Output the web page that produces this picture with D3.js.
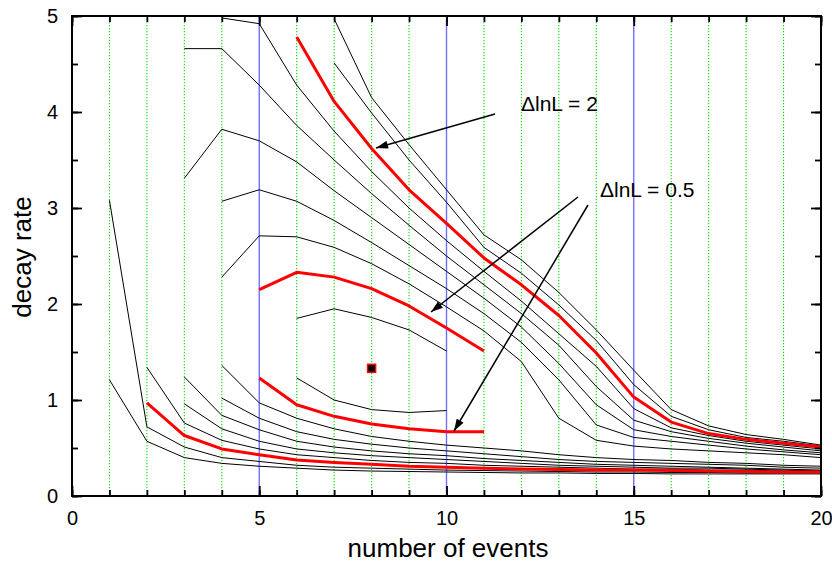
<!DOCTYPE html>
<html><head><meta charset="utf-8">
<script src="https://cdn.jsdelivr.net/npm/d3@7"></script>
<style>
body{margin:0;background:#fff}
svg{display:block}
text{font-family:"Liberation Sans",Arial,sans-serif}
</style>
</head><body>
<svg id="c" width="832" height="566"></svg>
<script>
// x positions: number of events 1..20 (null = no value at that n)
const nEvents = d3.range(1, 21);
const xTicks = [0, 5, 10, 15, 20];
const yTicks = [0, 1, 2, 3, 4, 5];

// red curves
const red2Upper  = [null,null,null,null,null,4.78,4.11,3.62,3.19,2.84,2.48,2.20,1.88,1.49,1.03,0.77,0.65,0.59,0.55,0.51];
const red2Lower  = [null,0.97,0.63,0.49,0.43,0.375,0.35,0.33,0.31,0.30,0.29,0.28,0.275,0.27,0.27,0.265,0.26,0.255,0.25,0.25];
const red05Upper = [null,null,null,null,2.15,2.33,2.28,2.16,1.98,1.75,1.51,null,null,null,null,null,null,null,null,null];
const red05Lower = [null,null,null,null,1.23,0.95,0.83,0.75,0.70,0.67,0.67,null,null,null,null,null,null,null,null,null];

// black curves, upper family
const t1 = [null,null,null,null,null,null,4.97,4.15,3.66,3.19,2.72,2.46,2.12,1.73,1.31,0.90,0.73,0.64,0.59,0.53];
const t2 = [null,null,null,null,null,null,4.51,3.99,3.50,3.06,2.59,2.32,1.99,1.62,1.16,0.83,0.69,0.61,0.57,0.52];
const b1 = [null,null,null,4.98,4.92,4.28,3.80,3.38,3.00,2.66,2.34,2.03,1.69,1.35,0.91,0.71,0.63,0.57,0.53,0.49];
const b2 = [null,null,4.66,4.66,4.28,3.86,3.50,3.15,2.82,2.50,2.20,1.90,1.57,1.14,0.79,0.67,0.60,0.55,0.51,0.47];
const b3 = [null,null,3.31,3.82,3.70,3.48,3.18,2.90,2.62,2.34,2.06,1.76,1.38,0.95,0.69,0.62,0.57,0.52,0.48,0.45];
const b4 = [null,null,null,3.07,3.19,3.07,2.87,2.64,2.40,2.16,1.90,1.60,1.21,0.74,0.61,0.57,0.53,0.49,0.46,0.43];
const b5 = [null,null,null,2.28,2.71,2.70,2.59,2.42,2.21,1.97,1.72,1.40,0.81,0.58,0.52,0.49,0.47,0.45,0.43,0.40];
const innerUpper = [null,null,null,null,null,1.85,1.95,1.86,1.73,1.51,null,null,null,null,null,null,null,null,null,null];
const innerLower = [null,null,null,null,null,1.23,1.00,0.90,0.87,0.89,null,null,null,null,null,null,null,null,null,null];

// black curves, lower family
const s5 = [null,null,null,1.36,0.97,0.81,0.70,0.62,0.57,0.53,0.50,0.47,0.43,0.40,0.38,0.37,0.35,0.34,0.32,0.31];
const s6 = [null,null,null,1.02,0.81,0.67,0.59,0.54,0.50,0.47,0.44,0.41,0.38,0.36,0.35,0.34,0.33,0.32,0.30,0.29];
const s3 = [null,null,1.24,0.84,0.69,0.57,0.51,0.47,0.44,0.42,0.39,0.37,0.35,0.33,0.32,0.31,0.30,0.29,0.28,0.27];
const s4 = [null,null,0.96,0.70,0.57,0.49,0.45,0.42,0.40,0.38,0.36,0.34,0.32,0.31,0.30,0.29,0.29,0.28,0.27,0.26];
const s2 = [null,1.34,0.76,0.58,0.49,0.43,0.40,0.37,0.35,0.34,0.32,0.31,0.30,0.29,0.28,0.28,0.27,0.27,0.26,0.26];
const sTop = [3.08,0.72,0.51,0.40,0.36,0.32,0.30,0.29,0.28,0.27,0.265,0.26,0.255,0.25,0.25,0.245,0.245,0.24,0.24,0.24];
const s1 = [1.21,0.57,0.40,0.34,0.31,0.29,0.27,0.26,0.255,0.25,0.245,0.24,0.24,0.235,0.235,0.23,0.23,0.23,0.23,0.23];

// best estimate
const bestN = [8];
const bestRate = [1.33];

const blackSeries = [t1, t2, b1, b2, b3, b4, b5, innerUpper, innerLower, s5, s6, s3, s4, s2, sTop, s1];
const redSeries = [red2Upper, red2Lower, red05Upper, red05Lower];

const svg = d3.select("#c");
const L = 72, R = 821, T = 16, B = 496;
const x = d3.scaleLinear().domain([0, 20]).range([L, R]);
const y = d3.scaleLinear().domain([0, 5]).range([B, T]);

// vertical grid lines
const g = svg.append("g");
d3.range(1, 20).forEach(v => {
  const major = v % 5 === 0;
  g.append("line").attr("x1", x(v)).attr("x2", x(v)).attr("y1", T).attr("y2", B)
    .attr("stroke", major ? "#7070ff" : "#00e000")
    .attr("stroke-width", major ? 1.4 : 1.1)
    .attr("stroke-dasharray", major ? null : "1.3,1.7");
});

const line = d3.line()
  .defined(d => d[1] !== null)
  .x(d => x(d[0])).y(d => y(d[1]));

blackSeries.forEach(s => {
  svg.append("path").datum(nEvents.map((n, i) => [n, s[i]]))
    .attr("d", line).attr("fill", "none").attr("stroke", "#000").attr("stroke-width", 1);
});
redSeries.forEach(s => {
  svg.append("path").datum(nEvents.map((n, i) => [n, s[i]]))
    .attr("d", line).attr("fill", "none").attr("stroke", "#ff0000").attr("stroke-width", 3)
    .attr("stroke-linejoin", "round");
});

// best point marker
svg.selectAll("rect.best").data(bestN.map((n, i) => [n, bestRate[i]])).enter()
  .append("rect").attr("x", d => x(d[0]) - 4).attr("y", d => y(d[1]) - 4)
  .attr("width", 8).attr("height", 8).attr("fill", "#000").attr("stroke", "#ff0000").attr("stroke-width", 1.5);

// axes
const fmt = d3.format("d");
const xAxisB = d3.axisBottom(x).tickValues(xTicks).tickFormat(fmt).tickSizeInner(-10).tickSizeOuter(0).tickPadding(15);
const xMinor = d3.axisBottom(x).tickValues(d3.range(0, 21)).tickSizeInner(-6).tickSizeOuter(0).tickFormat("");
const yAxisL = d3.axisLeft(y).tickValues(yTicks).tickFormat(fmt).tickSizeInner(-10).tickSizeOuter(0).tickPadding(14);
const yMinor = d3.axisLeft(y).tickValues(d3.range(0, 5.01, 0.5)).tickSizeInner(-6).tickSizeOuter(0).tickFormat("");

function styleAxis(sel) {
  sel.select(".domain").remove();
  sel.selectAll(".tick line").attr("stroke", "#000").attr("stroke-width", 1.8);
  sel.selectAll("text").attr("font-size", 20).attr("fill", "#000")
    .style("font-family", "'Liberation Sans', Arial, sans-serif");
}
svg.append("g").attr("transform", `translate(0,${B})`).call(xMinor).call(styleAxis);
svg.append("g").attr("transform", `translate(0,${B})`).call(xAxisB).call(styleAxis);
svg.append("g").attr("transform", `translate(0,${T})`).call(d3.axisTop(x).tickValues(xTicks).tickSizeInner(-10).tickSizeOuter(0).tickFormat("")).call(styleAxis);
svg.append("g").attr("transform", `translate(0,${T})`).call(d3.axisTop(x).tickValues(d3.range(0, 21)).tickSizeInner(-6).tickSizeOuter(0).tickFormat("")).call(styleAxis);
svg.append("g").attr("transform", `translate(${L},0)`).call(yMinor).call(styleAxis);
svg.append("g").attr("transform", `translate(${L},0)`).call(yAxisL).call(styleAxis);
svg.append("g").attr("transform", `translate(${R},0)`).call(d3.axisRight(y).tickValues(yTicks).tickSizeInner(-10).tickSizeOuter(0).tickFormat("")).call(styleAxis);
svg.append("g").attr("transform", `translate(${R},0)`).call(d3.axisRight(y).tickValues(d3.range(0, 5.01, 0.5)).tickSizeInner(-6).tickSizeOuter(0).tickFormat("")).call(styleAxis);

svg.append("rect").attr("x", L).attr("y", T).attr("width", R - L).attr("height", B - T)
  .attr("fill", "none").attr("stroke", "#000").attr("stroke-width", 2);

// axis titles
svg.append("text").attr("x", 448).attr("y", 557).attr("text-anchor", "middle")
  .attr("font-size", 26).text("number of events");
svg.append("text").attr("transform", `translate(31,257) rotate(-90)`)
  .attr("text-anchor", "middle").attr("font-size", 26).text("decay rate");

// annotations
const defs = svg.append("defs");
defs.append("marker").attr("id", "ah").attr("viewBox", "0 0 12 8").attr("refX", 12).attr("refY", 4)
  .attr("markerWidth", 13).attr("markerHeight", 8).attr("markerUnits", "userSpaceOnUse").attr("orient", "auto")
  .append("path").attr("d", "M0,0 L12,4 L0,8 Z").attr("fill", "#000");

const arrows = [[495, 114, 376, 148], [578, 197, 431, 312], [588, 205, 454, 431]];
arrows.forEach(a => {
  svg.append("line").attr("x1", a[0]).attr("y1", a[1]).attr("x2", a[2]).attr("y2", a[3])
    .attr("stroke", "#000").attr("stroke-width", 1.5).attr("marker-end", "url(#ah)");
});
svg.append("text").attr("x", 521).attr("y", 111).attr("font-size", 21).text("\u0394lnL = 2");
svg.append("text").attr("x", 600).attr("y", 197).attr("font-size", 21).text("\u0394lnL = 0.5");
</script>
</body></html>
